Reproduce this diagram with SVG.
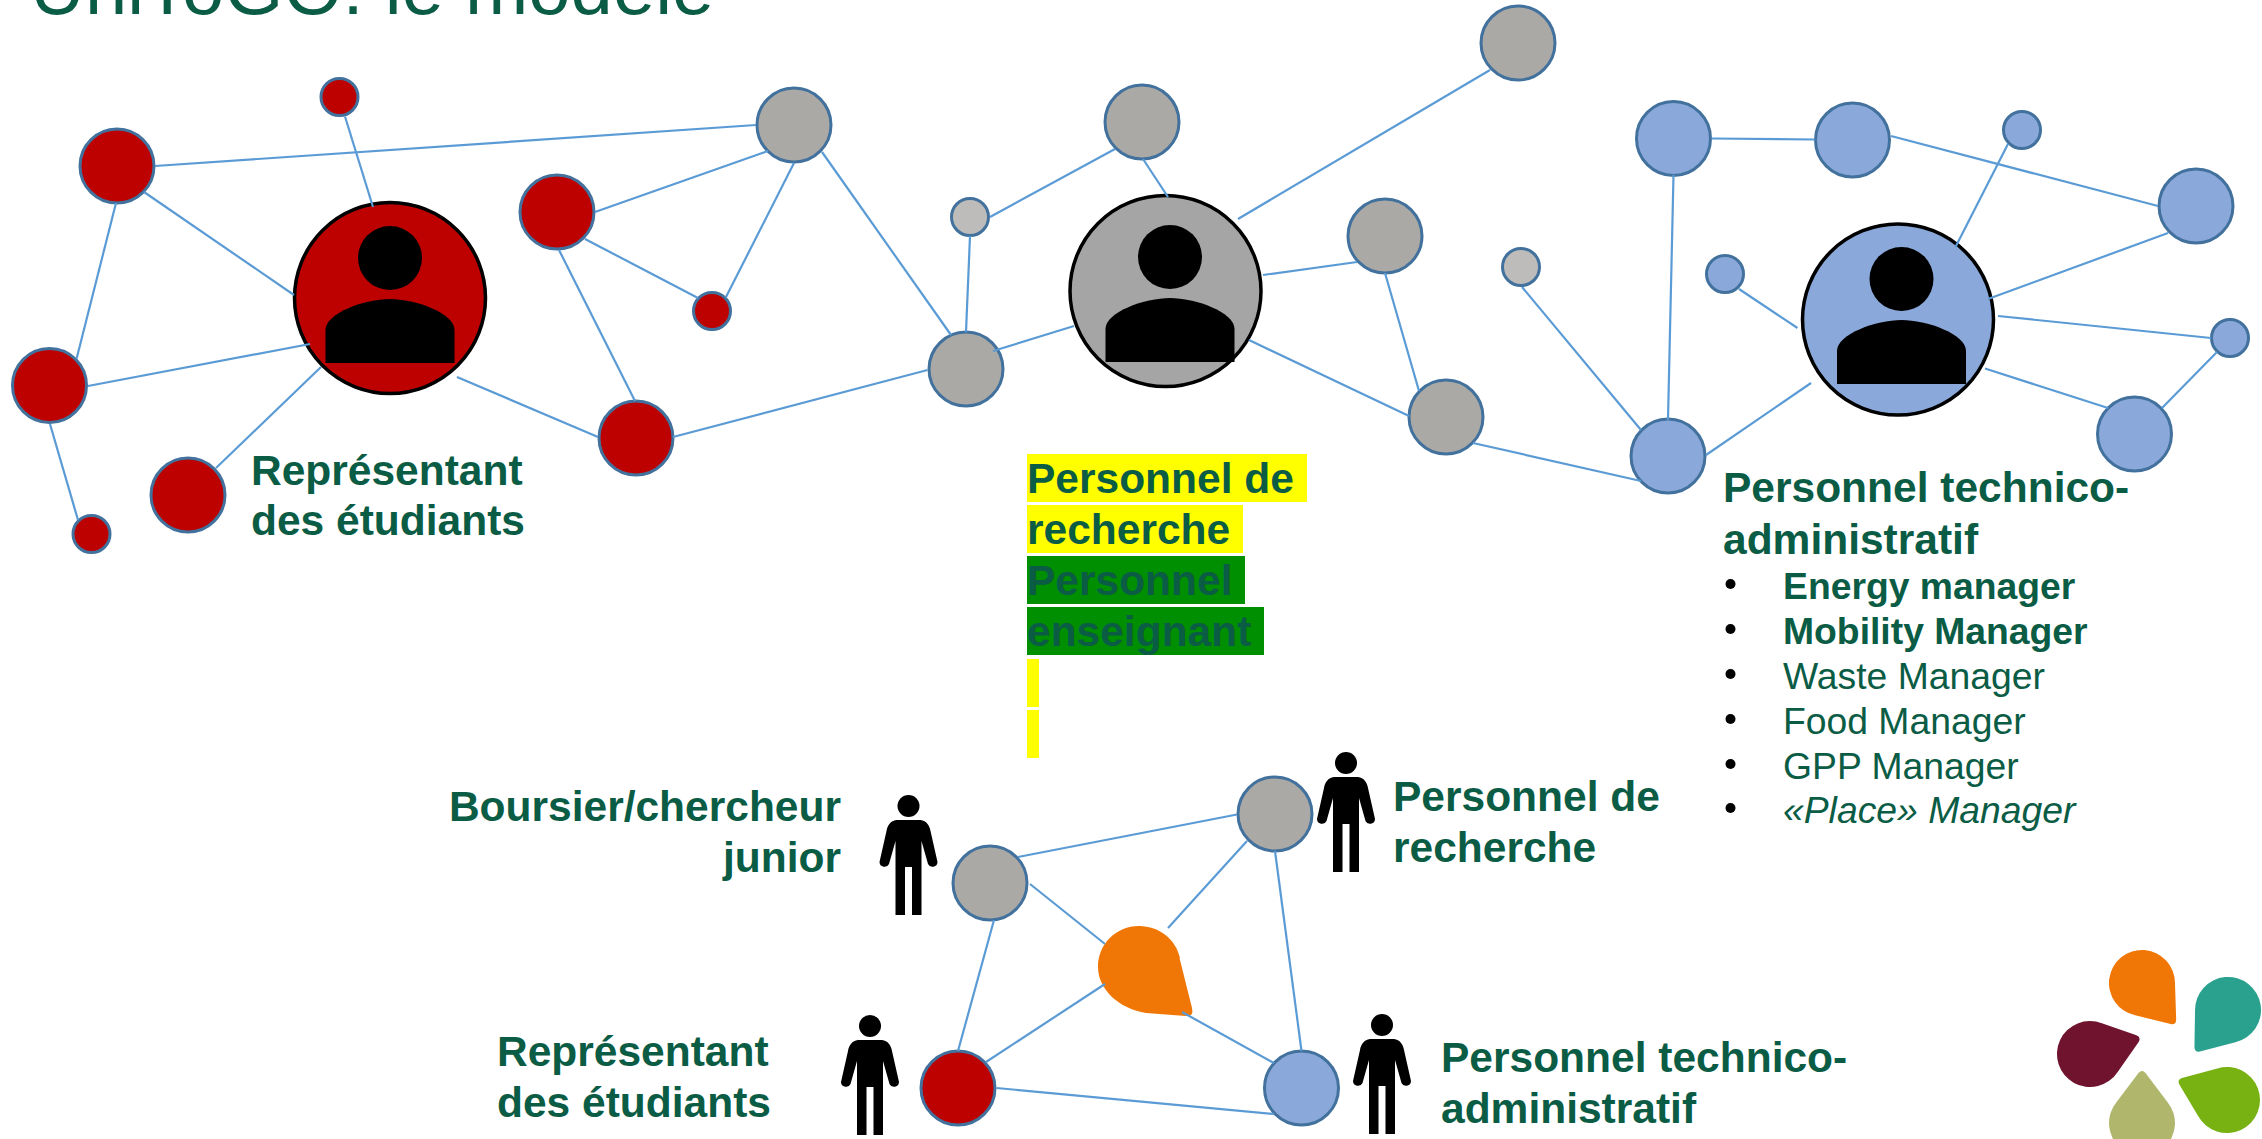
<svg xmlns="http://www.w3.org/2000/svg" width="2262" height="1139" viewBox="0 0 2262 1139">
<style>
text{font-family:"Liberation Sans",Arial,sans-serif;fill:#0b5c45}
.b{font-size:42.500px;font-weight:700}
.l{font-size:37.300px}
.lb{font-size:37.300px;font-weight:700}
.n{stroke:#41719c;stroke-width:3}
.big{stroke:#000;stroke-width:3.500}
.red{fill:#bd0000}.gray{fill:#aba9a6}.lg{fill:#bdbcba}.blue{fill:#8aa8da}
#connectors line{stroke:#5b9bd5;stroke-width:2.200}
</style>
<defs>
<g id="person"><circle cx="0" cy="0" r="11"/><path d="M-12,14H12C18,15 21,19 22,25L29,56A5,5 0 0 1 19.500,58L13,35V109H3.500V61H-3.500V109H-13V35L-19.500,58A5,5 0 0 1 -29,56L-22,25C-21,19 -18,15 -12,14Z"/></g>
<g id="bust"><circle cx="0" cy="0" r="32"/><path d="M-64.500,105V72C-64.500,55 -25,41 0,41C25,41 64.500,55 64.500,72V105Z"/></g>
<path id="drop" d="M20.800,-25.600A33,33 0 1 0 20.800,25.600L50,3.500Q54,0 50,-3.500Z"/>
</defs>
<rect width="2262" height="1139" fill="#fff"/>
<text id="title" x="30" y="14" font-size="76">UniToGO: le modèle</text>

<g id="n-r1"><circle class="n red" cx="117" cy="166" r="37"/></g>
<g id="n-r2"><circle class="n red" cx="339.500" cy="97" r="18.500"/></g>
<g id="n-r3"><circle class="n red" cx="49.500" cy="385.500" r="37"/></g>
<g id="n-r4"><circle class="n red" cx="188" cy="495" r="37"/></g>
<g id="n-r5"><circle class="n red" cx="91.500" cy="534" r="18.500"/></g>
<g id="n-r6"><circle class="n red" cx="557" cy="212" r="37"/></g>
<g id="n-r7"><circle class="n red" cx="712" cy="311" r="18.500"/></g>
<g id="n-r8"><circle class="n red" cx="636" cy="438" r="37"/></g>
<g id="n-red-main"><circle class="big" fill="#bd0000" cx="390" cy="298" r="95.500"/><use href="#bust" x="390" y="258"/></g>

<g id="n-g1"><circle class="n gray" cx="794" cy="125" r="37"/></g>
<g id="n-g2"><circle class="n gray" cx="1142" cy="122" r="37"/></g>
<g id="n-g3"><circle class="n lg" cx="970" cy="217" r="18.500"/></g>
<g id="n-g4"><circle class="n gray" cx="966" cy="369" r="37"/></g>
<g id="n-g5"><circle class="n gray" cx="1518" cy="43" r="37"/></g>
<g id="n-g6"><circle class="n gray" cx="1385" cy="236" r="37"/></g>
<g id="n-g7"><circle class="n gray" cx="1446" cy="417" r="37"/></g>
<g id="n-g8"><circle class="n lg" cx="1521" cy="267" r="18.500"/></g>
<g id="n-gray-main"><circle class="big" fill="#a5a5a5" cx="1165.500" cy="291" r="95.500"/><use href="#bust" x="1170" y="257"/></g>

<g id="n-b1"><circle class="n blue" cx="1673.500" cy="138.500" r="37"/></g>
<g id="n-b2"><circle class="n blue" cx="1852.500" cy="140" r="37"/></g>
<g id="n-b3"><circle class="n blue" cx="2022" cy="130" r="18.500"/></g>
<g id="n-b4"><circle class="n blue" cx="2196" cy="206" r="37"/></g>
<g id="n-b5"><circle class="n blue" cx="1725" cy="274" r="18.500"/></g>
<g id="n-b6"><circle class="n blue" cx="2230" cy="338" r="18.500"/></g>
<g id="n-b7"><circle class="n blue" cx="2134.500" cy="434" r="37"/></g>
<g id="n-b8"><circle class="n blue" cx="1668" cy="456" r="37"/></g>
<g id="n-blue-main"><circle class="big" fill="#8aa8da" cx="1898" cy="319.500" r="95.500"/><use href="#bust" x="1901.500" y="279"/></g>

<g id="n-c1"><circle class="n gray" cx="990" cy="883" r="37"/></g>
<g id="n-c2"><circle class="n gray" cx="1275" cy="814" r="37"/></g>
<g id="n-c3"><circle class="n red" cx="958" cy="1088" r="37"/></g>
<g id="n-c4"><circle class="n blue" cx="1301.500" cy="1088" r="37"/></g>
<g id="n-drop"><path fill="#f07705" d="M1179.500,958L1192,1008Q1194,1017 1186,1016L1146,1013C1120,1009 1098,990 1098,967C1098,944 1116,926 1139,926C1160,926 1176,940 1180,958Z"/></g>

<g id="connectors">
<line x1="155" y1="166" x2="756" y2="125"/>
<line x1="345" y1="116.500" x2="373" y2="207"/>
<line x1="144" y1="192" x2="294" y2="295"/>
<line x1="116" y1="203" x2="76.500" y2="359"/>
<line x1="88" y1="386" x2="310" y2="344"/>
<line x1="216" y1="468" x2="321" y2="367"/>
<line x1="50" y1="424" x2="78" y2="520"/>
<line x1="457" y1="377" x2="598" y2="437"/>
<line x1="595" y1="212" x2="768" y2="151"/>
<line x1="585" y1="239" x2="698" y2="298"/>
<line x1="794" y1="163" x2="726" y2="297"/>
<line x1="559" y1="250" x2="635" y2="401"/>
<line x1="673" y1="437" x2="927.500" y2="370"/>
<line x1="822" y1="152" x2="951" y2="335"/>
<line x1="966" y1="332" x2="970" y2="236"/>
<line x1="990" y1="217" x2="1115" y2="149"/>
<line x1="1143" y1="159" x2="1168" y2="197"/>
<line x1="993" y1="351" x2="1074" y2="326"/>
<line x1="1238" y1="219" x2="1490" y2="70"/>
<line x1="1263" y1="275" x2="1357" y2="262"/>
<line x1="1249" y1="340" x2="1409" y2="416"/>
<line x1="1385" y1="273" x2="1419" y2="391"/>
<line x1="1473" y1="443" x2="1641" y2="481"/>
<line x1="1522" y1="287" x2="1641" y2="430"/>
<line x1="1673.500" y1="175" x2="1668" y2="420"/>
<line x1="1711.500" y1="138.500" x2="1815" y2="139.500"/>
<line x1="1891" y1="136" x2="2158" y2="206"/>
<line x1="2008" y1="144" x2="1955.500" y2="247"/>
<line x1="2168" y1="233" x2="1988" y2="299"/>
<line x1="1739" y1="289" x2="1797.500" y2="328"/>
<line x1="1998" y1="316" x2="2211" y2="338"/>
<line x1="1985" y1="368.500" x2="2108" y2="408"/>
<line x1="2162" y1="408" x2="2217" y2="352"/>
<line x1="1706" y1="455" x2="1811" y2="383"/>
<line x1="1018" y1="857" x2="1237" y2="814.500"/>
<line x1="1030" y1="884" x2="1105" y2="944"/>
<line x1="994" y1="920" x2="958" y2="1051"/>
<line x1="986" y1="1062" x2="1105" y2="984"/>
<line x1="996.500" y1="1088" x2="1274" y2="1114"/>
<line x1="1247" y1="841" x2="1168" y2="928"/>
<line x1="1182" y1="1012" x2="1274" y2="1063"/>
<line x1="1275" y1="851" x2="1301.500" y2="1051"/>
</g>

<g id="p1"><use href="#person" x="908.500" y="806"/></g>
<g id="p2"><use href="#person" x="1346" y="763"/></g>
<g id="p3"><use href="#person" x="870" y="1026"/></g>
<g id="p4"><use href="#person" x="1382" y="1025"/></g>

<g id="labels-top">
<text class="b" x="251" y="485">Représentant</text>
<text class="b" x="251" y="535">des étudiants</text>
</g>
<g id="label-research">
<rect x="1027" y="454" width="280" height="48" fill="#ffff00"/>
<rect x="1027" y="505" width="216" height="48" fill="#ffff00"/>
<rect x="1027" y="556" width="218" height="48" fill="#008f00"/>
<rect x="1027" y="607" width="237" height="48" fill="#008f00"/>
<rect x="1027" y="659" width="12" height="48" fill="#ffff00"/>
<rect x="1027" y="710" width="12" height="48" fill="#ffff00"/>
<text class="b" x="1027" y="493">Personnel de</text>
<text class="b" x="1027" y="544">recherche</text>
<text class="b" x="1027" y="595">Personnel</text>
<text class="b" x="1027" y="646">enseignant</text>
</g>
<g id="label-tech">
<text class="b" x="1723" y="502">Personnel technico-</text>
<text class="b" x="1723" y="554">administratif</text>
<g fill="#000"><circle cx="1730.500" cy="584" r="5"/><circle cx="1730.500" cy="629" r="5"/><circle cx="1730.500" cy="674" r="5"/><circle cx="1730.500" cy="719" r="5"/><circle cx="1730.500" cy="764" r="5"/><circle cx="1730.500" cy="808" r="5"/></g>
<text class="lb" x="1783" y="599">Energy manager</text>
<text class="lb" x="1783" y="644">Mobility Manager</text>
<text class="l" x="1783" y="689">Waste Manager</text>
<text class="l" x="1783" y="734">Food Manager</text>
<text class="l" x="1783" y="779">GPP Manager</text>
<text class="l" x="1783" y="823" font-style="italic">«Place» Manager</text>
</g>
<g id="labels-bottom">
<text class="b" x="841" y="821" text-anchor="end">Boursier/chercheur</text>
<text class="b" x="841" y="872" text-anchor="end">junior</text>
<text class="b" x="497" y="1066">Représentant</text>
<text class="b" x="497" y="1117">des étudiants</text>
<text class="b" x="1393" y="811">Personnel de</text>
<text class="b" x="1393" y="862">recherche</text>
<text class="b" x="1441" y="1072">Personnel technico-</text>
<text class="b" x="1441" y="1123">administratif</text>
</g>
<g id="logo">
<use href="#drop" transform="translate(2142 983) rotate(51)" fill="#f07705"/>
<use href="#drop" transform="translate(2228 1010) rotate(128)" fill="#2aa18f"/>
<use href="#drop" transform="translate(2090 1054) rotate(-18)" fill="#6f132f"/>
<use href="#drop" transform="translate(2142 1123) rotate(-90)" fill="#b0b76d"/>
<use href="#drop" transform="translate(2227 1100) rotate(202)" fill="#77b212"/>
</g>
</svg>
